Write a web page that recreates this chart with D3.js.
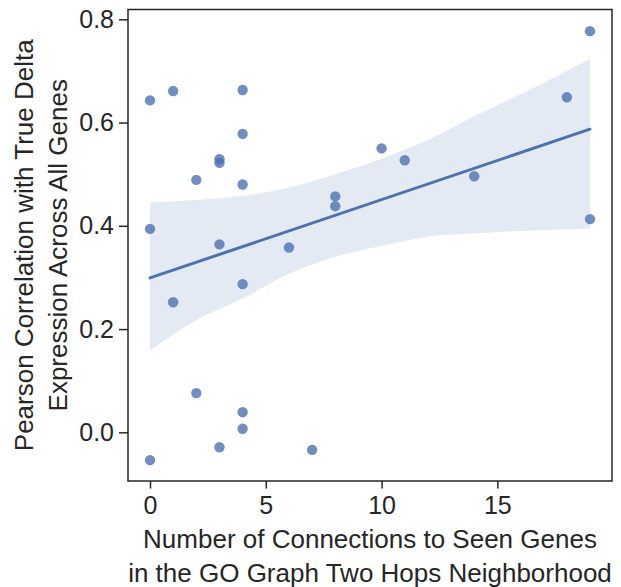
<!DOCTYPE html>
<html>
<head>
<meta charset="utf-8">
<script src="https://cdn.jsdelivr.net/npm/d3@7"></script>
<style>
  html, body { margin: 0; padding: 0; background: #fff; }
  svg text { font-family: "Liberation Sans", Arial, Helvetica, sans-serif; fill: #262626; }
</style>
</head>
<body>
<svg id="chart" width="621" height="587"></svg>
<script>
// connections (x) and pearson correlation (y) per gene
const connections = [0, 0, 0, 1, 1, 2, 2, 3, 3, 3, 3, 4, 4, 4, 4, 4, 4, 6, 7, 8, 8, 10, 11, 14, 18, 19, 19];
const pearson = [0.643, 0.394, -0.054, 0.661, 0.252, 0.489, 0.076, 0.529, 0.522, 0.364, -0.029,
                 0.663, 0.578, 0.480, 0.287, 0.039, 0.007, 0.358, -0.034, 0.457, 0.438,
                 0.550, 0.527, 0.496, 0.649, 0.777, 0.413];

// bootstrap confidence band
const bandX = [0, 2, 4, 6, 8, 10, 12, 14, 16, 18, 19];
const bandLow = [0.159, 0.217, 0.259, 0.307, 0.340, 0.361, 0.379, 0.385, 0.390, 0.393, 0.395];
const bandHigh = [0.445, 0.450, 0.458, 0.474, 0.500, 0.530, 0.566, 0.612, 0.655, 0.700, 0.723];

const xTicks = [0, 5, 10, 15];
const yTicks = [0.0, 0.2, 0.4, 0.6, 0.8];

const xLabel = ["Number of Connections to Seen Genes", "in the GO Graph Two Hops Neighborhood"];
const yLabel = ["Pearson Correlation with True Delta", "Expression Across All Genes"];

const color = "#4c72b0";
const margin = { top: 9.5, right: 9, bottom: 106, left: 128 };
const width = 621, height = 587;
const innerW = width - margin.left - margin.right;
const innerH = height - margin.top - margin.bottom;

const svg = d3.select("#chart");
const g = svg.append("g").attr("transform", `translate(${margin.left},${margin.top})`);

const xScale = d3.scaleLinear().domain([-0.95, 19.95]).range([0, innerW]);
const yScale = d3.scaleLinear().domain([-0.0943, 0.819]).range([innerH, 0]);

// least squares fit, like seaborn's regplot
const mx = d3.mean(connections), my = d3.mean(pearson);
let sxy = 0, sxx = 0;
connections.forEach((x, i) => {
    sxy += (x - mx) * (pearson[i] - my);
    sxx += (x - mx) * (x - mx);
});
const slope = sxy / sxx;
const intercept = my - slope * mx;
const xExtent = d3.extent(connections);

// band
const area = d3.area()
    .x((d, i) => xScale(bandX[i]))
    .y0((d, i) => yScale(bandLow[i]))
    .y1((d, i) => yScale(bandHigh[i]))
    .curve(d3.curveMonotoneX);

g.append("path")
    .datum(bandX)
    .attr("d", area)
    .style("fill", color)
    .style("fill-opacity", 0.15);

// points
g.append("g").selectAll("circle")
    .data(connections)
    .enter()
    .append("circle")
    .attr("cx", d => xScale(d))
    .attr("cy", (d, i) => yScale(pearson[i]))
    .attr("r", 5.2)
    .style("fill", color)
    .style("fill-opacity", 0.8);

// regression line
g.append("line")
    .attr("x1", xScale(xExtent[0]))
    .attr("y1", yScale(intercept + slope * xExtent[0]))
    .attr("x2", xScale(xExtent[1]))
    .attr("y2", yScale(intercept + slope * xExtent[1]))
    .style("stroke", color)
    .style("stroke-width", 3)
    .style("stroke-linecap", "round");

// axes
const xAxis = g.append("g")
    .attr("transform", `translate(0,${innerH})`)
    .call(d3.axisBottom(xScale).tickValues(xTicks).tickFormat(d3.format("d")).tickSizeOuter(0).tickSize(7.5).tickPadding(5));
const yAxis = g.append("g")
    .call(d3.axisLeft(yScale).tickValues(yTicks).tickFormat(d3.format(".1f")).tickSizeOuter(0).tickSize(9).tickPadding(5));

[xAxis, yAxis].forEach(ax => {
    ax.select(".domain").remove();
    ax.selectAll(".tick line").style("stroke", "#262626").style("stroke-width", 1.5);
    ax.selectAll(".tick text")
        .style("font-size", "25px")
        .style("fill", "#262626");
});
xAxis.selectAll(".tick text").attr("y", 33).attr("dy", null);

// frame
g.append("rect")
    .attr("width", innerW)
    .attr("height", innerH)
    .style("fill", "none")
    .style("stroke", "#262626")
    .style("stroke-width", 1.5);

// axis labels
xLabel.forEach((line, i) => {
    svg.append("text")
        .attr("x", margin.left + innerW / 2)
        .attr("y", 548 + i * 34)
        .attr("text-anchor", "middle")
        .style("font-size", "26px")
        .text(line);
});

yLabel.forEach((line, i) => {
    svg.append("text")
        .attr("transform", `translate(${33 + i * 34},${margin.top + innerH / 2}) rotate(-90)`)
        .attr("text-anchor", "middle")
        .style("font-size", "26px")
        .text(line);
});
</script>
</body>
</html>
